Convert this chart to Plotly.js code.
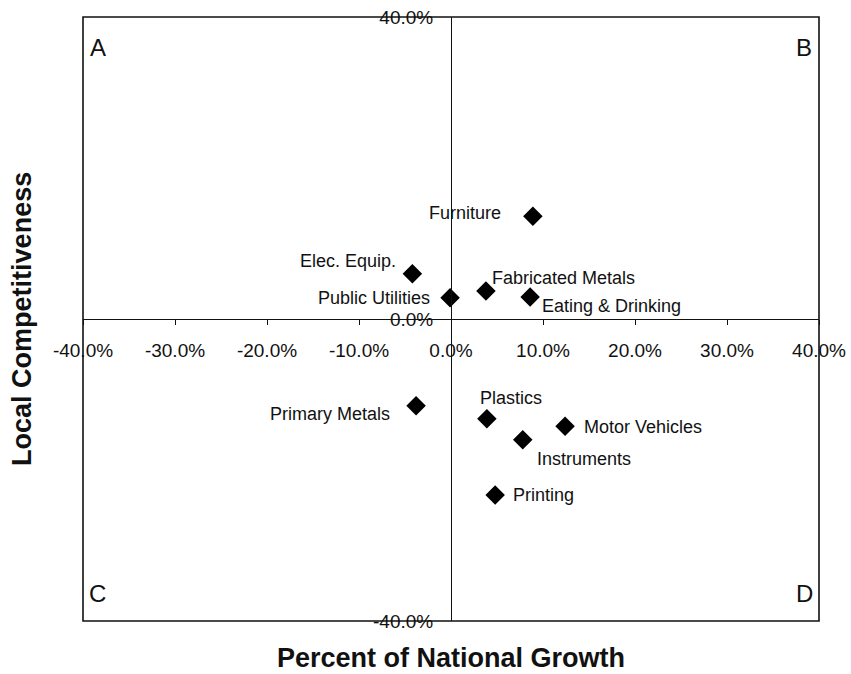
<!DOCTYPE html>
<html>
<head>
<meta charset="utf-8">
<script src="https://cdn.plot.ly/plotly-3.0.1.min.js"></script>
<style>
  html, body { margin: 0; padding: 0; background: #fff; }
  #chart { width: 851px; height: 674px; }
</style>
</head>
<body>
<div id="chart"></div>
<script>
// ─────────────────────────────
// DATOS
// ─────────────────────────────
const industrias = ['Furniture', 'Elec. Equip.', 'Fabricated Metals', 'Public Utilities',
  'Eating & Drinking', 'Primary Metals', 'Plastics', 'Motor Vehicles', 'Instruments', 'Printing'];
const crecimientoNacional = [8.9, -4.2, 3.8, -0.1, 8.6, -3.8, 3.9, 12.4, 7.8, 4.8];
const competitividadLocal = [13.6, 6.0, 3.7, 2.8, 2.9, -11.5, -13.2, -14.2, -16.0, -23.3];
const ticksX = [-40, -30, -20, -10, 0, 10, 20, 30, 40];
const ticksY = [-40, 0, 40];
const cuadrantes = ['A', 'B', 'C', 'D'];


// ─────────────────────────────
// ESTILO DE ETIQUETAS
// ─────────────────────────────
// [xanchor, xshift, yshift] para cada industria
const posEtiquetas = [
  ['right', -30, 3],
  ['right', -14, 13],
  ['left', 4, 13],
  ['right', -18, 0],
  ['left', 10, -9],
  ['right', -24, -8],
  ['center', 24, 21],
  ['left', 17, -1],
  ['left', 12, -19],
  ['left', 16, 0]
];
const posCuadrantes = [[0.02, 0.95], [0.98, 0.95], [0.02, 0.045], [0.98, 0.045]];

const FUENTE = '"Liberation Sans", Arial, Helvetica, sans-serif';
const NEGRO = '#111';


// ─────────────────────────────
// ANOTACIONES
// ─────────────────────────────
const anotaciones = [];

industrias.forEach((nombre, i) => {
  const [anchor, dx, dy] = posEtiquetas[i];
  anotaciones.push({
    x: crecimientoNacional[i],
    y: competitividadLocal[i],
    xref: 'x', yref: 'y',
    text: nombre,
    showarrow: false,
    xanchor: anchor,
    yanchor: 'middle',
    xshift: dx,
    yshift: dy,
    font: { family: FUENTE, size: 18, color: NEGRO }
  });
});

cuadrantes.forEach((letra, i) => {
  const [px, py] = posCuadrantes[i];
  anotaciones.push({
    x: px, y: py,
    xref: 'paper', yref: 'paper',
    text: letra,
    showarrow: false,
    xanchor: 'center',
    yanchor: 'middle',
    font: { family: FUENTE, size: 24, color: NEGRO }
  });
});

// Títulos de ejes como anotaciones (los ejes van por el centro)
anotaciones.push({
  x: 0.5, y: -0.062,
  xref: 'paper', yref: 'paper',
  text: '<b>Percent of National Growth</b>',
  showarrow: false,
  xanchor: 'center', yanchor: 'middle',
  font: { family: FUENTE, size: 27, color: NEGRO }
});
anotaciones.push({
  x: -0.083, y: 0.5,
  xref: 'paper', yref: 'paper',
  text: '<b>Local Competitiveness</b>',
  showarrow: false,
  textangle: -90,
  xanchor: 'center', yanchor: 'middle',
  font: { family: FUENTE, size: 27, color: NEGRO }
});


// ─────────────────────────────
// GRÁFICA
// ─────────────────────────────
Plotly.newPlot('chart', [{
  x: crecimientoNacional,
  y: competitividadLocal,
  type: 'scatter',
  mode: 'markers',
  marker: { symbol: 'diamond', size: 15, color: '#000' },
  hoverinfo: 'skip'
}], {
  width: 851,
  height: 674,
  margin: { l: 83, r: 32, t: 17, b: 53 },
  paper_bgcolor: '#fff',
  plot_bgcolor: '#fff',
  showlegend: false,
  font: { family: FUENTE, color: NEGRO },
  xaxis: {
    range: [-40, 40],
    anchor: 'free',
    position: 0.5,
    tickvals: ticksX,
    ticktext: ticksX.map(v => v.toFixed(1) + '%'),
    ticks: 'outside',
    ticklen: 5,
    tickcolor: NEGRO,
    ticklabelstandoff: 9,
    tickfont: { family: FUENTE, size: 19, color: NEGRO },
    showline: true,
    linecolor: NEGRO,
    linewidth: 1.3,
    showgrid: false,
    zeroline: false
  },
  yaxis: {
    range: [-40, 40],
    anchor: 'free',
    position: 0.5,
    tickvals: ticksY,
    ticktext: ticksY.map(v => v.toFixed(1) + '%'),
    ticks: '',
    ticklabelstandoff: 14,
    tickfont: { family: FUENTE, size: 19, color: NEGRO },
    showline: true,
    linecolor: NEGRO,
    linewidth: 1.3,
    showgrid: false,
    zeroline: false
  },
  shapes: [{
    type: 'rect',
    xref: 'paper', yref: 'paper',
    x0: 0, y0: 0, x1: 1, y1: 1,
    line: { color: NEGRO, width: 1.6 }
  }],
  annotations: anotaciones
}, { displayModeBar: false, staticPlot: true });
</script>
</body>
</html>
